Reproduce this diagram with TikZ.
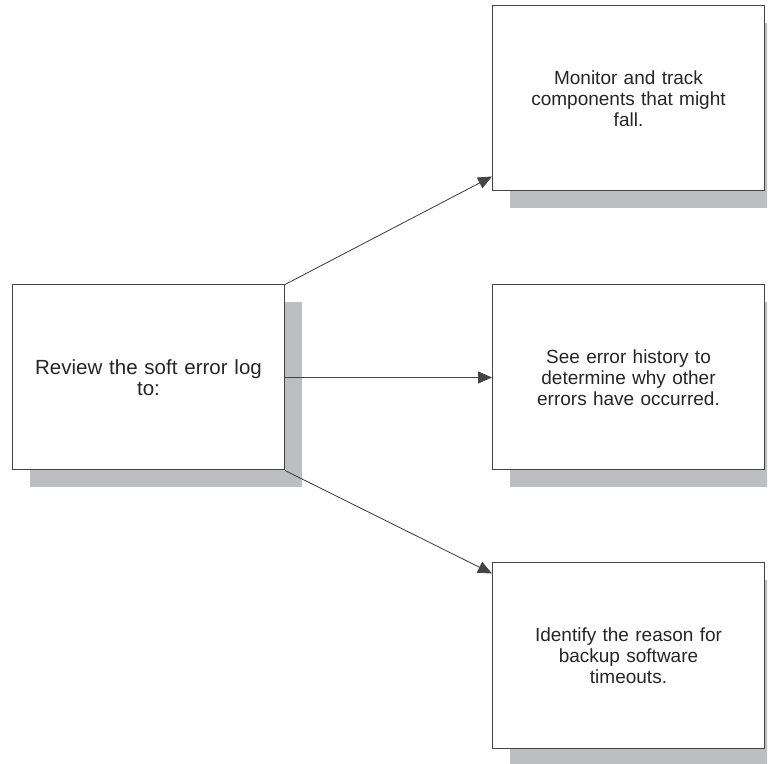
\documentclass[tikz,border=0pt]{standalone}
\usepackage{fontspec}
\setmainfont{Liberation Sans}
\usepackage{tikz}
\usetikzlibrary{arrows.meta, positioning, shadows}
\definecolor{shadegray}{RGB}{189,190,194}
\definecolor{edgegray}{RGB}{68,68,68}

\begin{document}
\begin{tikzpicture}[
    x=1pt, y=1pt,
    node distance=93pt and 207pt,
    box/.style={rectangle, draw=edgegray, line width=1pt, fill=white, minimum width=272pt, minimum height=185pt, text width=250pt, align=center, text=black!85, font=\fontsize{19}{21}\selectfont, drop shadow={shadow xshift=17pt, shadow yshift=-17pt, fill=shadegray, opacity=1}},
    arrow/.style={-{Triangle[length=14pt, width=12pt]}, line width=0.8pt, draw=edgegray, fill=black}
]
\useasboundingbox (0,0) rectangle (773,763);
\clip (0,0) rectangle (767,763);

% Source
\node[box, font=\fontsize{20.5}{21}\selectfont] (review) at (148.5,385.5) {Review the soft error log\\to:};

% Targets
\node[box, right=of review] (history) {See error history to\\determine why other\\errors have occurred.};
\node[box, above=of history] (monitor) {Monitor and track\\components that might\\fall.};
\node[box, below=92pt of history] (timeout) {Identify the reason for\\backup software\\timeouts.};

% Arrows
\draw[arrow] (review.north east) -- ([yshift=15pt]monitor.south west);
\draw[arrow] (review.east) -- (history.west);
\draw[arrow] (review.south east) -- ([yshift=-11pt]timeout.north west);

\end{tikzpicture}
\end{document}
